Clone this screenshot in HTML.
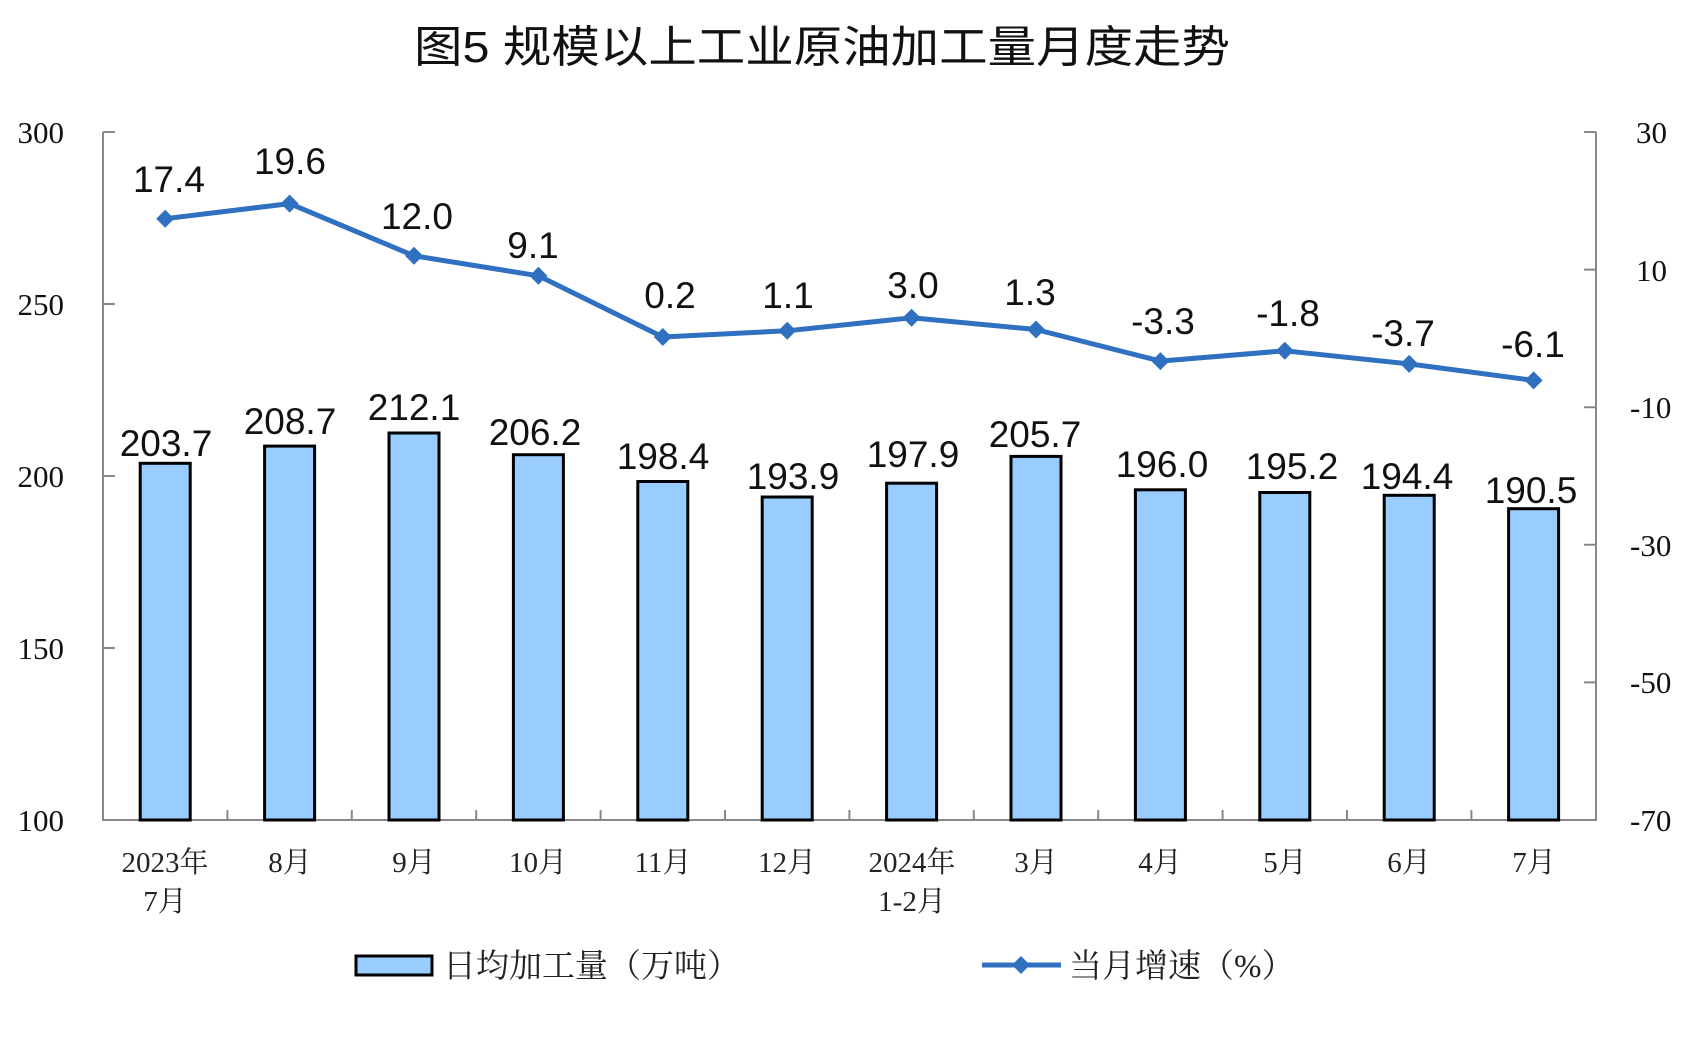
<!DOCTYPE html>
<html><head><meta charset="utf-8"><style>body{margin:0;background:#fff}svg{display:block}</style></head>
<body>
<svg width="1693" height="1057" xmlns="http://www.w3.org/2000/svg">
<text x="822" y="62" text-anchor="middle" font-family="'Liberation Sans','Noto Sans CJK SC',sans-serif" font-size="44" textLength="816" lengthAdjust="spacingAndGlyphs" fill="#111">图5 规模以上工业原油加工量月度走势</text>
<g stroke="#888" stroke-width="2" fill="none">
<path d="M103 132V820H1596V132"/>
<path d="M103 132h12M103 304h12M103 476h12M103 648h12"/>
<path d="M1596 132h-12M1596 269.6h-12M1596 407.2h-12M1596 544.8h-12M1596 682.4h-12"/>
<path d="M227.4 820v-10M351.8 820v-10M476.2 820v-10M600.6 820v-10M725 820v-10M849.4 820v-10M973.8 820v-10M1098.2 820v-10M1222.6 820v-10M1347 820v-10M1471.4 820v-10"/>
</g>
<g font-family="'Liberation Serif',serif" font-size="31" fill="#111" text-anchor="end">
<text x="64" y="143">300</text><text x="64" y="315">250</text><text x="64" y="487">200</text><text x="64" y="659">150</text><text x="64" y="831">100</text>
</g>
<g font-family="'Liberation Serif',serif" font-size="31" fill="#111">
<text x="1636" y="143">30</text><text x="1636" y="281">10</text><text x="1630" y="418">-10</text><text x="1630" y="556">-30</text><text x="1630" y="693">-50</text><text x="1630" y="831">-70</text>
</g>
<g fill="#99ccff" stroke="#000" stroke-width="3">
<rect x="140.2" y="463.3" width="50" height="356.7"/>
<rect x="264.6" y="446.1" width="50" height="373.9"/>
<rect x="389" y="433" width="50" height="387"/>
<rect x="513.4" y="454.7" width="50" height="365.3"/>
<rect x="637.8" y="481.5" width="50" height="338.5"/>
<rect x="762.2" y="497" width="50" height="323"/>
<rect x="886.6" y="483.2" width="50" height="336.8"/>
<rect x="1011" y="456.4" width="50" height="363.6"/>
<rect x="1135.4" y="489.8" width="50" height="330.2"/>
<rect x="1259.8" y="492.5" width="50" height="327.5"/>
<rect x="1384.2" y="495.3" width="50" height="324.7"/>
<rect x="1508.6" y="508.7" width="50" height="311.3"/>
</g>
<polyline fill="none" stroke="#3070c0" stroke-width="5" stroke-linejoin="round" points="165.2,218.7 289.6,203.6 414,255.8 538.4,275.8 662.8,337 787.2,330.8 911.6,317.8 1036,329.5 1160.4,361.1 1284.8,350.8 1409.2,363.9 1533.6,380.4"/>
<g fill="#3070c0">
<path d="M165.2 209.7l9 9-9 9-9-9z"/><path d="M289.6 194.6l9 9-9 9-9-9z"/><path d="M414 246.8l9 9-9 9-9-9z"/><path d="M538.4 266.8l9 9-9 9-9-9z"/><path d="M662.8 328l9 9-9 9-9-9z"/><path d="M787.2 321.8l9 9-9 9-9-9z"/><path d="M911.6 308.8l9 9-9 9-9-9z"/><path d="M1036 320.5l9 9-9 9-9-9z"/><path d="M1160.4 352.1l9 9-9 9-9-9z"/><path d="M1284.8 341.8l9 9-9 9-9-9z"/><path d="M1409.2 354.9l9 9-9 9-9-9z"/><path d="M1533.6 371.4l9 9-9 9-9-9z"/>
</g>
<g font-family="'Liberation Sans',sans-serif" font-size="37" fill="#111" text-anchor="middle">
<text x="166" y="456">203.7</text><text x="290" y="434">208.7</text><text x="414" y="420">212.1</text><text x="535" y="445">206.2</text><text x="663" y="469">198.4</text><text x="793" y="489">193.9</text><text x="913" y="467">197.9</text><text x="1035" y="447">205.7</text><text x="1162" y="477">196.0</text><text x="1292" y="479">195.2</text><text x="1407" y="489">194.4</text><text x="1531" y="503">190.5</text>
<text x="169" y="192">17.4</text><text x="290" y="174">19.6</text><text x="417" y="229">12.0</text><text x="533" y="258">9.1</text><text x="670" y="308">0.2</text><text x="788" y="308">1.1</text><text x="913" y="298">3.0</text><text x="1030" y="305">1.3</text><text x="1163" y="334">-3.3</text><text x="1288" y="326">-1.8</text><text x="1403" y="346">-3.7</text><text x="1533" y="357">-6.1</text>
</g>
<g font-family="'Liberation Serif','Noto Serif CJK SC',serif" font-size="29" fill="#222" text-anchor="middle">
<text x="165" y="872">2023年</text><text x="165" y="911">7月</text><text x="290" y="872">8月</text><text x="414" y="872">9月</text><text x="538" y="872">10月</text><text x="663" y="872">11月</text><text x="787" y="872">12月</text><text x="912" y="872">2024年</text><text x="912" y="911">1-2月</text><text x="1036" y="872">3月</text><text x="1160" y="872">4月</text><text x="1285" y="872">5月</text><text x="1409" y="872">6月</text><text x="1534" y="872">7月</text>
</g>
<rect x="356" y="956" width="76" height="19" fill="#99ccff" stroke="#000" stroke-width="3"/>
<line x1="982" y1="965" x2="1061" y2="965" stroke="#3070c0" stroke-width="5"/>
<path d="M1021 956l9 9-9 9-9-9z" fill="#3070c0"/>
<g font-family="'Liberation Serif','Noto Serif CJK SC',serif" font-size="33" fill="#222">
<text x="443" y="977">日均加工量（万吨）</text><text x="1069" y="977">当月增速（%）</text>
</g>
</svg>
</body></html>
